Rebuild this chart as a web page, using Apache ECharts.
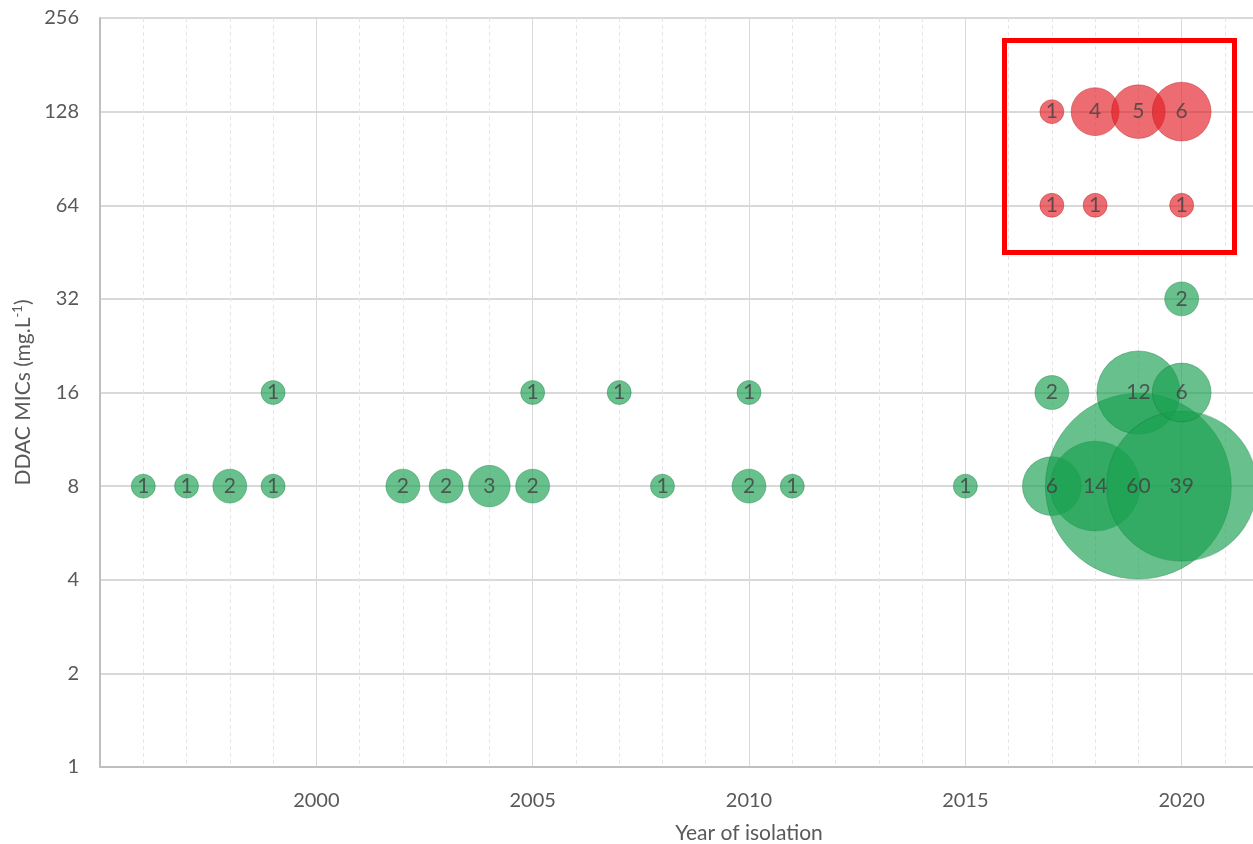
<!DOCTYPE html>
<html>
<head>
<meta charset="utf-8">
<script src="https://cdn.jsdelivr.net/npm/echarts@6/dist/echarts.min.js"></script>
<style>html,body{margin:0;padding:0;background:#fff;overflow:hidden;}#c{width:1253px;height:844px;}</style>
</head>
<body>
<div id="c"></div>
<script>
// Green bubbles: [year, MIC, count]
var greenYears  = [1996,1997,1998,1999,1999,2002,2003,2004,2005,2005,2007,2008,2010,2010,2011,2015,2017,2017,2018,2019,2019,2020,2020,2020];
var greenMIC    = [8,8,8,8,16,8,8,8,8,16,16,8,8,16,8,8,8,16,8,8,16,8,16,32];
var greenCount  = [1,1,2,1,1,2,2,3,2,1,1,1,2,1,1,1,6,2,14,60,12,39,6,2];
// Red bubbles
var redYears = [2017,2018,2019,2020,2017,2018,2020];
var redMIC   = [128,128,128,128,64,64,64];
var redCount = [1,4,5,6,1,1,1];
var yTicks = [1,2,4,8,16,32,64,128,256];
var xTickLabels = [2000,2005,2010,2015,2020];

function build(xs, ys, cs){ return xs.map(function(x,i){ return [x, ys[i], cs[i]]; }); }

var chart = echarts.init(document.getElementById('c'), null, {renderer:'canvas'});
var font = 'Lato, "Open Sans", sans-serif';
var labelOpt = {show:true, position:'inside', formatter:function(p){return p.value[2];}, color:'#404040', fontSize:21, fontFamily:font};
function size(v){ return 24*Math.sqrt(v[2]); }

chart.setOption({
  animation:false,
  grid:{left:100, top:18, width:1298, height:749, containLabel:false, outerBoundsMode:'none'},
  xAxis:{
    type:'value', min:1995, max:2025, interval:5,
    axisLine:{show:true, lineStyle:{color:'#bfbfbf', width:2}},
    axisTick:{show:false},
    axisLabel:{color:'#595959', fontSize:20, fontFamily:font, margin:24,
      formatter:function(v){ return xTickLabels.indexOf(v)>=0 ? String(v) : ''; }},
    splitLine:{show:true, lineStyle:{color:'#d9d9d9', width:1}},
    minorTick:{show:false, splitNumber:5},
    minorSplitLine:{show:true, lineStyle:{color:'#e6e6e6', width:1, type:[4,3]}},
    name:'Year of isolation', nameLocation:'middle', nameGap:56,
    nameTextStyle:{color:'#595959', fontSize:21, fontFamily:font}
  },
  yAxis:{
    type:'log', logBase:2, min:1, max:256,
    axisLine:{show:true, lineStyle:{color:'#bfbfbf', width:2}},
    axisTick:{show:false},
    axisLabel:{color:'#595959', fontSize:20, fontFamily:font, margin:21,
      formatter:function(v){ return yTicks.indexOf(Math.round(v))>=0 ? String(Math.round(v)) : ''; }},
    splitLine:{show:true, lineStyle:{color:'#d9d9d9', width:2}},
    name:'{a|DDAC MICs (mg.L}{s|-1}{a|)}', nameLocation:'middle', nameGap:62, nameRotate:90,
    nameTextStyle:{rich:{
      a:{color:'#595959', fontSize:21, fontFamily:font},
      s:{color:'#595959', fontSize:13, fontFamily:font, verticalAlign:'top', padding:[0,0,10,0]}
    }}
  },
  series:[
    {type:'scatter', name:'green', data:build(greenYears, greenMIC, greenCount),
     symbolSize:size,
     itemStyle:{color:'rgba(25,160,80,0.82)', borderColor:'rgba(15,120,60,0.45)', borderWidth:1},
     label:labelOpt, z:2},
    {type:'scatter', name:'red', data:build(redYears, redMIC, redCount),
     symbolSize:size,
     itemStyle:{color:'rgba(228,30,38,0.82)', borderColor:'rgba(170,20,25,0.45)', borderWidth:1},
     label:labelOpt, z:3}
  ],
  graphic:[
    {type:'rect', shape:{x:1004.5, y:40.5, width:230, height:212},
     style:{fill:'none', stroke:'#ff0000', lineWidth:5}, z:100}
  ]
});
</script>
</body>
</html>
